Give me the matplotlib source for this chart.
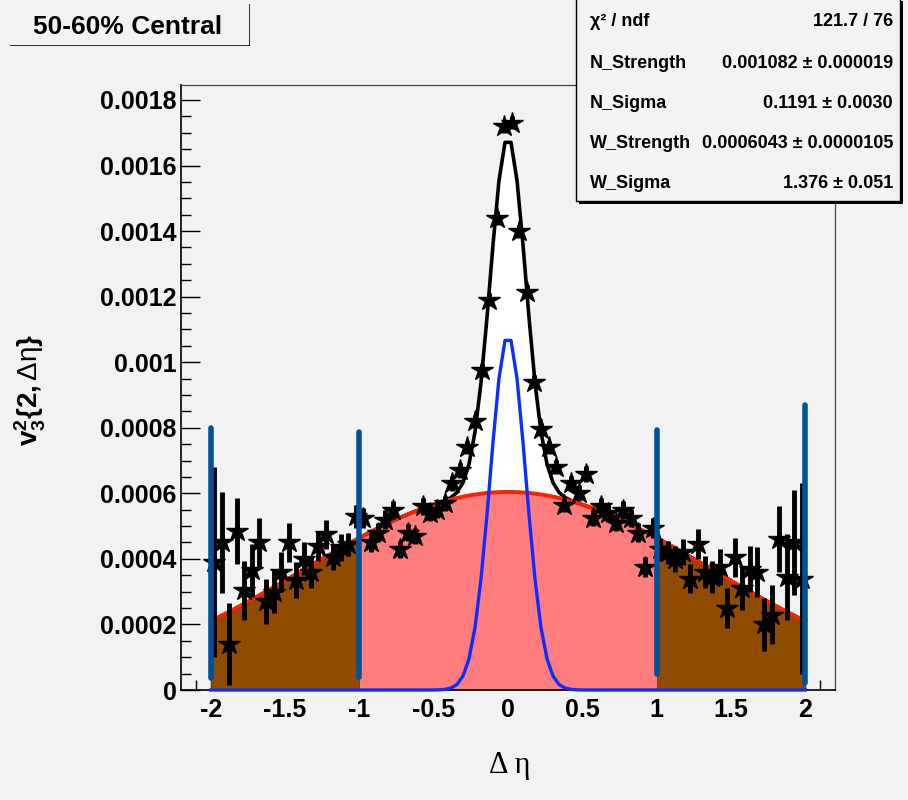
import numpy as np
import matplotlib
matplotlib.use("Agg")
import matplotlib.pyplot as plt
from matplotlib.patches import Rectangle

plt.rcParams['font.family'] = ['Liberation Sans', 'DejaVu Sans']
plt.rcParams['mathtext.fontset'] = 'custom'
plt.rcParams['mathtext.rm'] = 'Liberation Sans'
plt.rcParams['mathtext.bf'] = 'Liberation Sans:bold'
plt.rcParams['mathtext.it'] = 'Liberation Sans:italic'

# ---------------- data ----------------
title_text = "50-60% Central"
bin_centers = np.linspace(-1.975, 1.975, 80)
v32_e4 = [3.9, 4.5, 1.4, 4.85, 3.05, 3.65, 4.5, 2.7, 3.0, 3.6,
          4.5, 3.35, 4.0, 3.6, 4.4, 4.75, 4.05, 4.35, 4.45, 5.3,
          5.25, 4.5, 4.8, 5.2, 5.5, 4.3, 4.8, 4.7, 5.6, 5.4,
          5.5, 5.7, 6.3, 6.7, 7.4, 8.2, 9.75, 11.9, 14.4, 17.2,
          17.3, 14.0, 12.15, 9.4, 7.95, 7.4, 6.8, 5.65, 6.3, 6.0,
          6.6, 5.25, 5.6, 5.4, 5.1, 5.5, 5.25, 4.8, 3.75, 4.95,
          4.3, 4.2, 4.0, 4.2, 3.4, 4.45, 3.6, 3.45, 3.75, 2.5,
          4.05, 3.1, 3.7, 3.6, 2.0, 2.3, 4.6, 3.45, 4.5, 3.4]
err_e4 = [2.9, 1.55, 1.25, 1.0, 0.9, 0.8, 0.75, 0.7, 0.65, 0.6,
          0.6, 0.55, 0.5, 0.5, 0.45, 0.45, 0.4, 0.4, 0.35, 0.35,
          0.3, 0.3, 0.3, 0.28, 0.28, 0.26, 0.26, 0.25, 0.25, 0.24,
          0.24, 0.23, 0.22, 0.22, 0.2, 0.2, 0.2, 0.2, 0.2, 0.2,
          0.2, 0.2, 0.2, 0.2, 0.2, 0.2, 0.22, 0.22, 0.23, 0.24,
          0.24, 0.25, 0.25, 0.26, 0.26, 0.28, 0.28, 0.3, 0.3, 0.3,
          0.35, 0.35, 0.4, 0.4, 0.45, 0.45, 0.5, 0.5, 0.55, 0.6,
          0.6, 0.65, 0.7, 0.75, 0.8, 0.9, 1.0, 1.3, 1.6, 2.9]

# fit parameters (from stats box)
N_strength, N_sigma = 0.001082, 0.1191
W_strength, W_sigma = 0.0006043, 1.376
stats_labels = ["\u03c7\u00b2 / ndf", "N_Strength", "N_Sigma", "W_Strength", "W_Sigma"]
stats_values = ["121.7 / 76", "0.001082 \u00b1 0.000019", "0.1191 \u00b1 0.0030",
                "0.0006043 \u00b1 0.0000105", "1.376 \u00b1 0.051"]

# vertical marker lines (position, bottom, top)
vline_x = [-2, -1, 1, 2]
vline_bottom = [0.000037, 0.00004, 0.00005, 0.00002]
vline_top = [0.0008, 0.000787, 0.000793, 0.00087]

xtick_vals = [-2, -1.5, -1, -0.5, 0, 0.5, 1, 1.5, 2]
xtick_labels = ["-2", "-1.5", "-1", "-0.5", "0", "0.5", "1", "1.5", "2"]
ytick_vals = [0, 0.0002, 0.0004, 0.0006, 0.0008, 0.001, 0.0012, 0.0014, 0.0016, 0.0018]
ytick_labels = ["0", "0.0002", "0.0004", "0.0006", "0.0008", "0.001",
                "0.0012", "0.0014", "0.0016", "0.0018"]

# ---------------- figure ----------------
W, H = 908, 800
bg = '#f2f2f2'
fig = plt.figure(figsize=(W / 100, H / 100), dpi=100, facecolor=bg)
ax = fig.add_axes([181 / W, 110 / H, 654 / W, 605 / H])
ax.set_facecolor(bg)

xf = np.linspace(-2, 2, 100)
near = N_strength * np.exp(-xf ** 2 / (2 * N_sigma ** 2))
wide = W_strength * np.exp(-xf ** 2 / (2 * W_sigma ** 2))
total = near + wide

ax.fill_between(xf, 0, total, color='white', lw=0, zorder=1)
xin = np.linspace(-1, 1, 200)
win = W_strength * np.exp(-xin ** 2 / (2 * W_sigma ** 2))
ax.fill_between(xin, 0, win, color='#ff7d7d', lw=0, zorder=2)
for a, b in [(-2, -1), (1, 2)]:
    xo = np.linspace(a, b, 100)
    wo = W_strength * np.exp(-xo ** 2 / (2 * W_sigma ** 2))
    ax.fill_between(xo, 0, wo, color='#8f4b00', lw=0, zorder=2)

ax.plot(xf, total, color='black', lw=2.6, zorder=3)
ax.plot(xf, wide, color='#ff2000', lw=2.8, zorder=3.5)
ax.plot(xf, near, color='#0a2eff', lw=2.4, zorder=3.5, clip_on=False)

v32 = np.array(v32_e4) * 1e-4
err = np.array(err_e4) * 1e-4
ax.errorbar(bin_centers, v32, yerr=err, fmt='*', color='black', ms=16,
            elinewidth=3.5, capsize=0, zorder=4)

for xv, yb, yt in zip(vline_x, vline_bottom, vline_top):
    ax.plot([xv, xv], [yb, yt], color='#00509a', lw=4, solid_capstyle='round', zorder=5)

ax.set_xlim(-2.2, 2.2)
ax.set_ylim(0, 605 / 327778)
ax.set_xticks(xtick_vals)
ax.set_xticklabels(xtick_labels)
ax.set_yticks(ytick_vals)
ax.set_yticklabels(ytick_labels)
ax.set_xticks(np.round(np.arange(-2.1, 2.15, 0.1), 2), minor=True)
ax.set_yticks(np.arange(0, 0.00185, 0.00005), minor=True)
ax.tick_params(which='major', direction='in', length=14, width=1, top=False, right=False,
               labelsize=18, pad=6)
ax.tick_params(which='minor', direction='in', length=7, width=1, top=False, right=False)
for lab in ax.get_xticklabels() + ax.get_yticklabels():
    lab.set_fontweight('bold')
ax.tick_params(axis='y', pad=3)
for s in ['left', 'bottom']:
    ax.spines[s].set_color('black')
    ax.spines[s].set_linewidth(1.2)
for s in ['top', 'right']:
    ax.spines[s].set_color('#444444')
    ax.spines[s].set_linewidth(0.9)

fig.text(30 / W, 1 - 390 / H,
         r"$\mathbf{v}_{\mathbf{3}}^{\mathbf{2}}\mathbf{\{2,}\mathrm{\Delta\eta}\mathbf{\}}$",
         rotation=90, fontsize=20, ha='center', va='center')
fig.text(510 / W, 1 - 765 / H, "\u0394 \u03b7", fontsize=22,
         family=['Liberation Serif', 'DejaVu Serif'], ha='center', va='center')

def pave(x0, y0, x1, y1, shadow=3, edge=False):
    fig.patches.append(Rectangle((x0 / W + shadow / W, 1 - (y1 + shadow) / H),
                                 (x1 - x0) / W, (y1 - y0) / H, transform=fig.transFigure,
                                 facecolor='black', edgecolor='none', zorder=10))
    fig.patches.append(Rectangle((x0 / W, 1 - y1 / H), (x1 - x0) / W, (y1 - y0) / H,
                                 transform=fig.transFigure, facecolor='#f3f3f3',
                                 edgecolor='black' if edge else '#f3f3f3', lw=1, zorder=11))

pave(8, 2, 248, 44, shadow=2)
fig.text(128 / W, 1 - 27 / H, title_text, fontsize=19, fontweight='bold',
         ha='center', va='center', zorder=12)

pave(576, -2, 900, 201, shadow=3, edge=True)
rows_y = [22, 64, 104, 143, 183]
for lbl, val, yy in zip(stats_labels, stats_values, rows_y):
    fig.text(590 / W, 1 - yy / H, lbl, fontsize=13, fontweight='bold',
             ha='left', va='center', zorder=12)
    fig.text(893 / W, 1 - yy / H, val, fontsize=13, fontweight='bold',
             ha='right', va='center', zorder=12)

fig.savefig("out.png", dpi=100, facecolor=bg)
